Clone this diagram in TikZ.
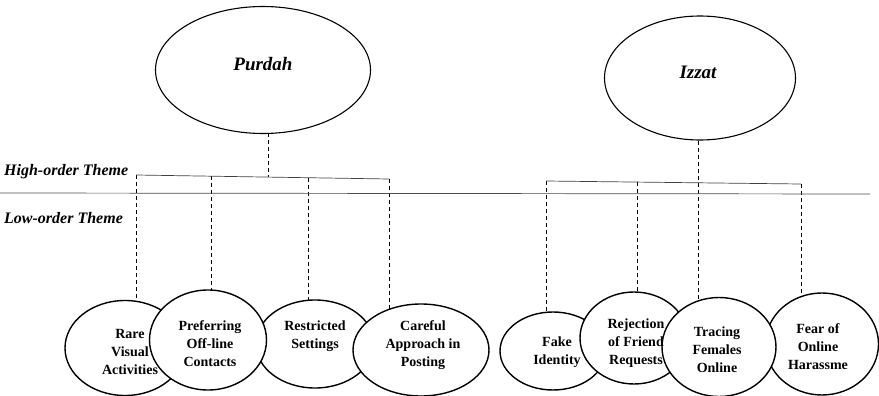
\documentclass[tikz,border=0pt]{standalone}
\usepackage{fontspec}
\setmainfont{Liberation Serif}
\usetikzlibrary{shapes.geometric}
\pgfdeclarelayer{bg}
\pgfsetlayers{bg,main}
\begin{document}
\begin{tikzpicture}[x=1pt,y=-1pt,
  oval/.style={draw, ellipse, fill=white, line width=1.4pt, inner sep=0pt},
  lbl/.style={font=\fontsize{14}{18}\selectfont\bfseries, align=center, inner sep=0pt},
  dsh/.style={dash pattern=on 4pt off 3pt, line width=1pt},
  brk/.style={line width=0.7pt, draw=black!75},
  head/.style={font=\fontsize{19}{22}\selectfont\bfseries\itshape, inner sep=0pt},
  theme/.style={font=\fontsize{16}{18}\selectfont\bfseries\itshape, anchor=west, inner sep=0pt}]
\useasboundingbox (0,0) rectangle (879,396);

% top-level themes
\node[oval, line width=1.1pt, minimum width=215pt, minimum height=127pt] (purdah) at (263,70) {};
\node[head] (purdahT) at (263,64) {Purdah};
\node[oval, line width=1.1pt, minimum width=191pt, minimum height=124pt] (izzat) at (700,78) {};
\node[head] (izzatT) at (698,72) {Izzat};

% theme labels
\node[theme] (hot) at (4,172) {High-order Theme};
\node[theme] (lot) at (4,218) {Low-order Theme};

% separator
\coordinate (sepL) at (0,193);
\coordinate (sepR) at (870,194);
\draw[line width=0.7pt, draw=black!70] (sepL) -- (sepR);

% brackets
\coordinate (pa) at (136,175);
\coordinate (pb) at (211,176.2);
\coordinate (pm) at (268,177.1);
\coordinate (pc) at (308,177.7);
\coordinate (pd) at (389,179);
\coordinate (ia) at (546,181);
\coordinate (ib) at (637,182.1);
\coordinate (im) at (698,182.8);
\coordinate (id) at (801,184);
\draw[brk] (pa) -- (pd);
\draw[brk] (ia) -- (id);

% low-order themes (left)
\node[oval, minimum width=118pt, minimum height=88pt] (restr) at (315,344) {};
\node[oval, minimum width=120pt, minimum height=95pt] (rare) at (125,348) {};
\node[oval, minimum width=117pt, minimum height=100pt] (pref) at (208,340) {};
\node[oval, minimum width=136pt, minimum height=92pt] (care) at (421,350) {};
\node[lbl] (rareT) at (130,352) {Rare\\Visual\\Activities};
\node[lbl] (prefT) at (210,344) {Preferring\\Off-line\\Contacts};
\node[lbl] (restrT) at (315,336) {Restricted\\Settings};
\node[lbl] (careT) at (423,345) {Careful\\Approach in\\Posting};

% low-order themes (right)
\node[oval, minimum width=106pt, minimum height=78pt] (fake) at (553,351) {};
\node[oval, minimum width=108pt, minimum height=92pt] (rej) at (634,338) {};
\node[oval, minimum width=113pt, minimum height=102pt] (fear) at (822,344) {};
\node[oval, minimum width=114pt, minimum height=99pt] (trac) at (719,347) {};
\node[lbl] (fakeT) at (557,352) {Fake\\Identity};
\node[lbl] (rejT) at (636,343) {Rejection\\of Friend\\Requests};
\node[lbl] (tracT) at (717,350) {Tracing\\Females\\Online};
\node[lbl] (fearT) at (818,347) {Fear of\\Online\\Harassme};

% dashed connectors (behind the ovals)
\begin{pgfonlayer}{bg}
\draw[dsh] (purdah.center -| pm) -- (pm);
\draw[dsh] (pa) -- (pa |- rare.center);
\draw[dsh] (pb) -- (pb |- pref.center);
\draw[dsh] (pc) -- (pc |- restr.center);
\draw[dsh] (pd) -- (pd |- care.center);
\draw[dsh] (izzat.center -| im) -- (im |- trac.center);
\draw[dsh] (ia) -- (ia |- fake.center);
\draw[dsh] (ib) -- (ib |- rej.center);
\draw[dsh] (id) -- (id |- fear.center);
\end{pgfonlayer}
\end{tikzpicture}
\end{document}
